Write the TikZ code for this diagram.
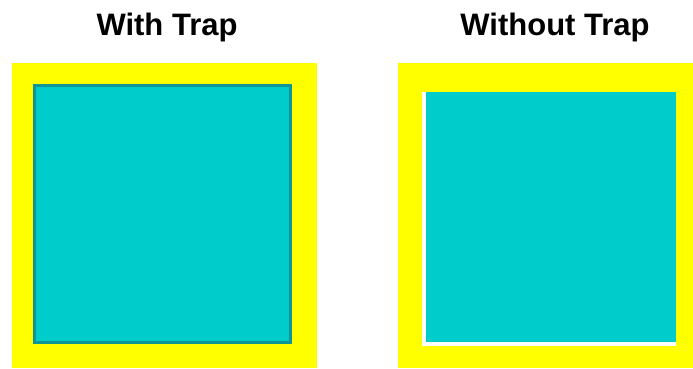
\documentclass[tikz,border=0pt]{standalone}
\usepackage{fontspec}
\setmainfont{Liberation Sans}
\definecolor{trapyellow}{RGB}{255,255,0}
\definecolor{trapcyan}{RGB}{0,204,204}
\definecolor{trapedge}{RGB}{14,150,150}
\begin{document}
\begin{tikzpicture}[x=1pt,y=-1pt,
    paneltitle/.style={font=\fontsize{31}{31}\selectfont\bfseries,anchor=base}]
    \useasboundingbox (0,0) rectangle (693,368);
    \fill[white] (0,0) rectangle (693,368);
    % with trap
    \node[paneltitle] (withtitle) at (167,35) {With Trap};
    \fill[trapyellow] (12,63) rectangle (317,368);
    \filldraw[fill=trapcyan,draw=trapedge,line width=3pt] (34.5,85.5) rectangle (290.5,342.5);
    % without trap
    \node[paneltitle] (withouttitle) at (555,35) {Without Trap};
    \fill[trapyellow] (398,63) rectangle (693,368);
    \fill[white] (422,92) rectangle (676,346);
    \fill[trapcyan] (426,92) rectangle (676,342);
\end{tikzpicture}
\end{document}
